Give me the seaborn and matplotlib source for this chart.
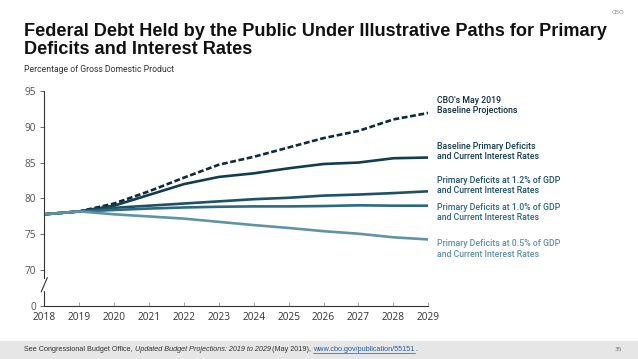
import pandas as pd
import matplotlib.pyplot as plt
import matplotlib.transforms as mtransforms
import seaborn as sns

# Data (percentage of GDP)
years = list(range(2018, 2030))
cbo_baseline = [77.8, 78.2, 79.3, 81.0, 82.9, 84.7, 85.8, 87.1, 88.4, 89.4, 91.0, 91.9]
baseline_deficits = [77.8, 78.2, 79.0, 80.5, 82.0, 83.0, 83.5, 84.2, 84.8, 85.0, 85.6, 85.7]
deficit_12 = [77.8, 78.2, 78.7, 79.0, 79.3, 79.6, 79.9, 80.1, 80.4, 80.55, 80.75, 81.0]
deficit_10 = [77.8, 78.2, 78.4, 78.6, 78.75, 78.85, 78.9, 78.9, 78.95, 79.05, 79.0, 79.0]
deficit_05 = [77.8, 78.2, 77.8, 77.5, 77.2, 76.75, 76.3, 75.9, 75.45, 75.1, 74.6, 74.3]

series_names = [
    "CBO's May 2019\nBaseline Projections",
    "Baseline Primary Deficits\nand Current Interest Rates",
    "Primary Deficits at 1.2% of GDP\nand Current Interest Rates",
    "Primary Deficits at 1.0% of GDP\nand Current Interest Rates",
    "Primary Deficits at 0.5% of GDP\nand Current Interest Rates",
]
series_values = [cbo_baseline, baseline_deficits, deficit_12, deficit_10, deficit_05]
colors = ["#0d2b3b", "#123d50", "#1d5166", "#2c6a80", "#5f93a6"]
label_y = [92.9, 86.55, 81.8, 78.05, 73.0]

y_ticks = [65, 70, 75, 80, 85, 90, 95]
y_tick_labels = ["0", "70", "75", "80", "85", "90", "95"]

df = pd.DataFrame({"year": years})
for name, vals in zip(series_names, series_values):
    df[name] = vals

sns.set_theme(style="white")
plt.rcParams["font.family"] = ["Open Sans", "DejaVu Sans"]

fig = plt.figure(figsize=(6.38, 3.59), dpi=100)
ax = fig.add_axes([0.0694, 0.1468, 0.6019, 0.6006])

for i, (name, c) in enumerate(zip(series_names, colors)):
    sns.lineplot(data=df, x="year", y=name, ax=ax, color=c, linewidth=1.9,
                 linestyle=(0, (2.2, 1.0)) if i == 0 else "-")
    ax.text(2029.25, label_y[i], name, color=c, fontsize=6.3, fontweight="medium",
            family=["Roboto", "DejaVu Sans"], va="center", ha="left",
            linespacing=1.2, clip_on=False)

ax.set_xlim(2018, 2029)
ax.set_ylim(65, 95)
ax.set_xticks(years)
ax.set_xticklabels([str(y) for y in years])
ax.set_yticks(y_ticks)
ax.set_yticklabels(y_tick_labels)
ax.set_xlabel("")
ax.set_ylabel("")
ax.tick_params(axis="x", direction="in", length=3, width=0.6, color="#999999",
               labelsize=7.3, labelcolor="#333333", pad=4)
ax.tick_params(axis="y", direction="out", length=3, width=0.6, color="#555555",
               labelsize=7.3, labelcolor="#555555", pad=3)
ax.tick_params(axis="x", bottom=True)
ax.tick_params(axis="y", left=True)

for s in ["top", "right"]:
    ax.spines[s].set_visible(False)
for s in ["left", "bottom"]:
    ax.spines[s].set_color("#333333")
    ax.spines[s].set_linewidth(0.8)

# axis break on y
ax.spines["left"].set_bounds(68.9, 95)
trans = mtransforms.blended_transform_factory(ax.transAxes, ax.transData)
ax.plot([0, 0], [65, 67.1], color="#333333", linewidth=0.8, transform=trans, clip_on=False)
ax.plot([-0.008, 0.008], [67.0, 69.0], color="#333333", linewidth=0.8, transform=trans, clip_on=False)

# title and notes
fig.text(0.0376, 1 - 23 / 359, "Federal Debt Held by the Public Under Illustrative Paths for Primary\nDeficits and Interest Rates",
         fontsize=13.1, fontweight="bold", color="#111111", family=["Liberation Sans", "DejaVu Sans"],
         va="top", ha="left", linespacing=1.05)
fig.text(0.0376, 1 - 69 / 359, "Percentage of Gross Domestic Product", fontsize=6.2, color="#333333",
         family=["Roboto", "DejaVu Sans"], va="center", ha="left")
fig.text(0.978, 0.965, "CBO", fontsize=4.5, color="#888888", va="center", ha="right")

# footer band
fig.patches.append(plt.Rectangle((0, 0), 1, 18 / 359, transform=fig.transFigure,
                                 color="#e6e6e6", zorder=0))
foot = [("See Congressional Budget Office, ", "normal", "#333333", False),
        ("Updated Budget Projections: 2019 to 2029", "italic", "#333333", False),
        (" (May 2019), ", "normal", "#333333", False),
        ("www.cbo.gov/publication/55151", "normal", "#1f5fa8", True),
        (".", "normal", "#333333", False)]
renderer = fig.canvas.get_renderer()
x0 = 0.0376
for txt, style, col, under in foot:
    t = fig.text(x0, 9.7 / 359, txt, fontsize=5.25, color=col, style=style,
                 family=["Liberation Sans", "DejaVu Sans"], va="center", ha="left")
    bb = t.get_window_extent(renderer=renderer)
    if under:
        fig.add_artist(plt.Line2D([bb.x0 / 638, bb.x1 / 638], [6.0 / 359, 6.0 / 359],
                                  color=col, linewidth=0.5, transform=fig.transFigure))
    x0 = bb.x1 / 638
fig.text(0.975, 9.7 / 359, "35", fontsize=4.5, color="#666666", va="center", ha="right")

fig.savefig("out.png", dpi=100)
